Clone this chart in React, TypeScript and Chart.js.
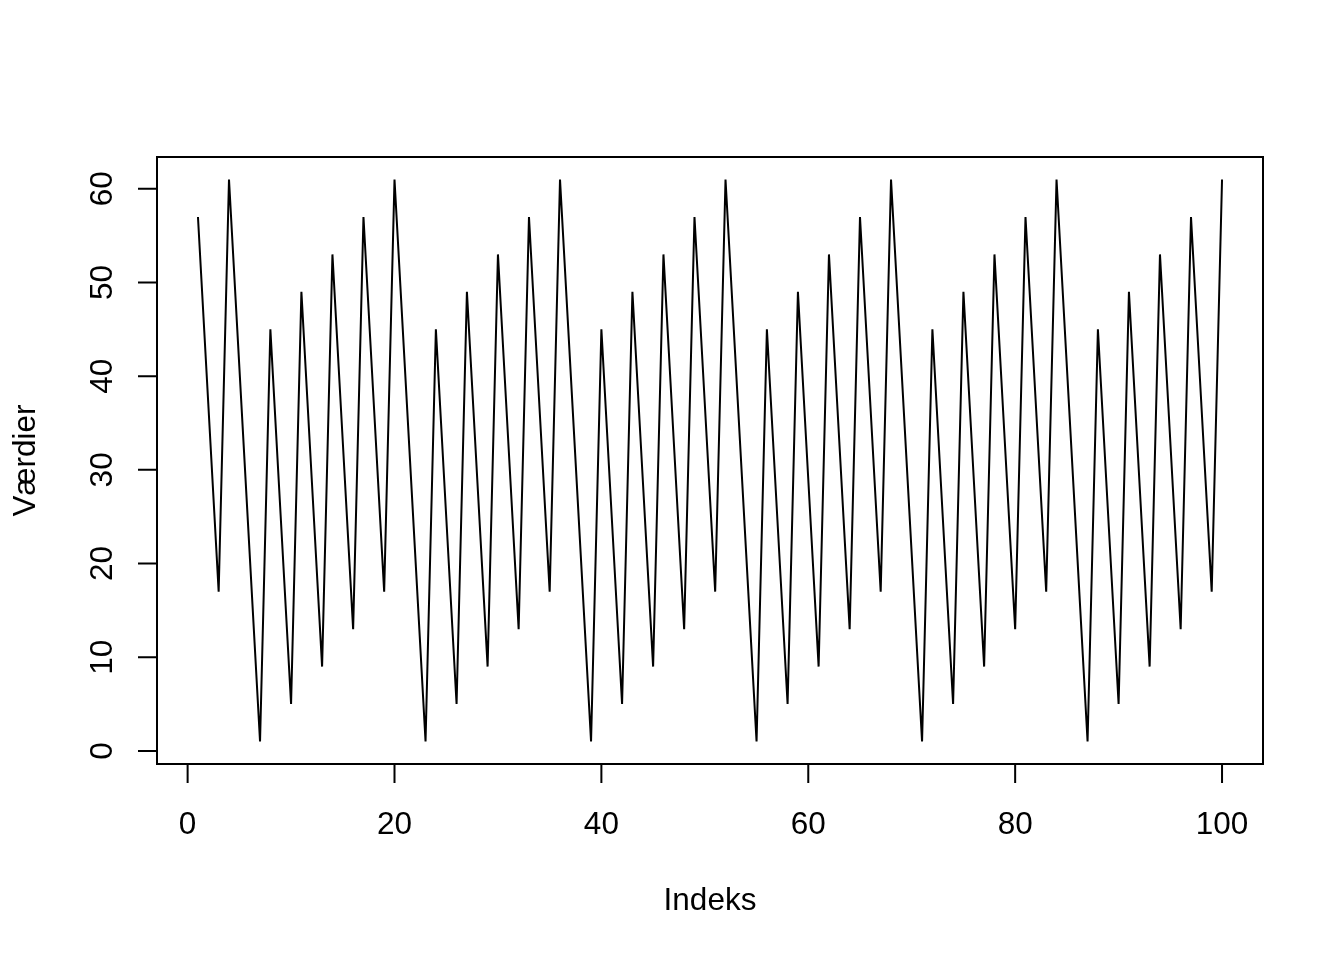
import { useEffect, useRef } from "react";
import { Chart, registerables } from "chart.js";

Chart.register(...registerables);

// Series values at index 1..100
const values: number[] = [
  57, 37, 17, 61, 41, 21, 1, 45, 25, 5, 49, 29, 9, 53, 33, 13,
  57, 37, 17, 61, 41, 21, 1, 45, 25, 5, 49, 29, 9, 53, 33, 13,
  57, 37, 17, 61, 41, 21, 1, 45, 25, 5, 49, 29, 9, 53, 33, 13,
  57, 37, 17, 61, 41, 21, 1, 45, 25, 5, 49, 29, 9, 53, 33, 13,
  57, 37, 17, 61, 41, 21, 1, 45, 25, 5, 49, 29, 9, 53, 33, 13,
  57, 37, 17, 61, 41, 21, 1, 45, 25, 5, 49, 29, 9, 53, 33, 13,
  57, 37, 17, 61,
];

const xTicks: number[] = [0, 20, 40, 60, 80, 100];
const yTicks: number[] = [0, 10, 20, 30, 40, 50, 60];
const xTitle = "Indeks";
const yTitle = "Værdier";

const FONT = '31.5px "Liberation Sans", Arial, sans-serif';

const rBasePlugin = {
  id: "rbase",
  afterDraw(chart: any) {
    const { ctx, chartArea: a, scales } = chart;
    const xs = scales.x;
    const ys = scales.y;
    ctx.save();
    ctx.strokeStyle = "#000";
    ctx.fillStyle = "#000";
    ctx.lineWidth = 2;
    // box
    ctx.strokeRect(a.left, a.top, a.right - a.left, a.bottom - a.top);

    // x axis
    ctx.beginPath();
    const x0 = xs.getPixelForValue(xTicks[0]);
    const x1 = xs.getPixelForValue(xTicks[xTicks.length - 1]);
    ctx.moveTo(x0, a.bottom);
    ctx.lineTo(x1, a.bottom);
    xTicks.forEach((v) => {
      const px = xs.getPixelForValue(v);
      ctx.moveTo(px, a.bottom);
      ctx.lineTo(px, a.bottom + 19);
    });
    // y axis
    const y0 = ys.getPixelForValue(yTicks[0]);
    const y1 = ys.getPixelForValue(yTicks[yTicks.length - 1]);
    ctx.moveTo(a.left, y0);
    ctx.lineTo(a.left, y1);
    yTicks.forEach((v) => {
      const py = ys.getPixelForValue(v);
      ctx.moveTo(a.left, py);
      ctx.lineTo(a.left - 19, py);
    });
    ctx.stroke();

    ctx.font = FONT;
    ctx.textAlign = "center";
    ctx.textBaseline = "alphabetic";
    xTicks.forEach((v) => {
      const px = xs.getPixelForValue(v);
      ctx.fillText(String(v), px, a.bottom + 70);
    });
    yTicks.forEach((v) => {
      const py = ys.getPixelForValue(v);
      ctx.save();
      ctx.translate(a.left - 45, py);
      ctx.rotate(-Math.PI / 2);
      ctx.fillText(String(v), 0, 0);
      ctx.restore();
    });

    // titles
    ctx.fillText(xTitle, (a.left + a.right) / 2, a.bottom + 146);
    ctx.save();
    ctx.translate(35, (a.top + a.bottom) / 2);
    ctx.rotate(-Math.PI / 2);
    ctx.fillText(yTitle, 0, 0);
    ctx.restore();

    ctx.restore();
  },
};

export default function App() {
  const ref = useRef<HTMLCanvasElement | null>(null);

  useEffect(() => {
    document.body.style.margin = "0";
    const canvas = ref.current;
    if (!canvas) return;
    const chart = new Chart(canvas, {
      type: "line",
      data: {
        datasets: [
          {
            data: values.map((v, i) => ({ x: i + 1, y: v })),
            borderColor: "#000",
            borderWidth: 2,
            pointRadius: 0,
            tension: 0,
            fill: false,
          },
        ],
      },
      options: {
        responsive: false,
        animation: false,
        devicePixelRatio: 1,
        layout: { padding: { left: 157, top: 157, right: 81, bottom: 196 } },
        plugins: {
          legend: { display: false },
          tooltip: { enabled: false },
        },
        scales: {
          x: { type: "linear", min: -2.96, max: 103.96, display: false },
          y: { type: "linear", min: -1.4, max: 63.4, display: false },
        },
      },
      plugins: [rBasePlugin],
    });
    return () => chart.destroy();
  }, []);

  return (
    <div style={{ width: 1344, height: 960, background: "#fff" }}>
      <canvas ref={ref} width={1344} height={960} style={{ display: "block" }} />
    </div>
  );
}
